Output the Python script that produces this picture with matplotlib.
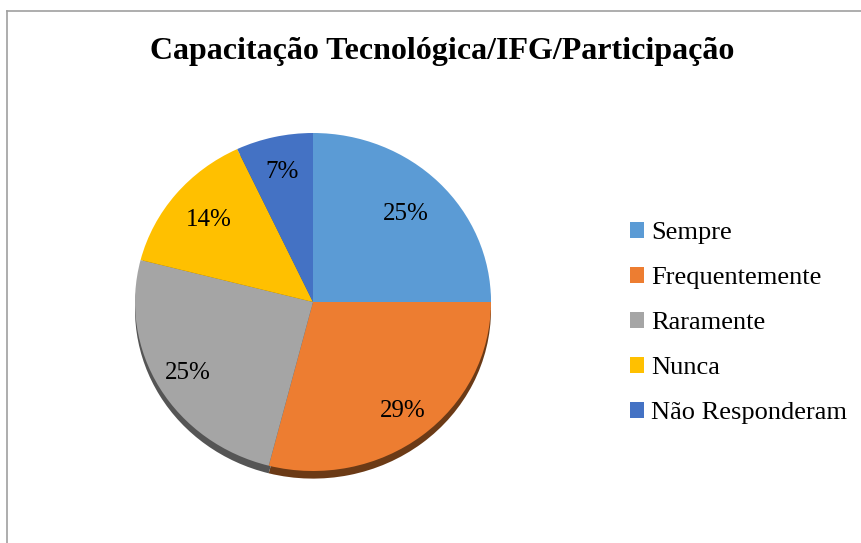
import numpy as np
import matplotlib.pyplot as plt
from matplotlib.lines import Line2D

categories = ['Sempre', 'Frequentemente', 'Raramente', 'Nunca', 'Não Responderam']
values = [25, 29, 25, 14, 7]
colors = ['#5B9BD5', '#ED7D31', '#A5A5A5', '#FFC000', '#4472C4']
shadow_colors = ['#3f6d96', '#6b3a16', '#555555', '#8a6a00', '#2f4f88']
# radial position of each percentage label (fraction of radius)
label_dist = [0.74, 0.82, 0.82, 0.76, 0.79]

plt.rcParams['font.family'] = ['Liberation Serif', 'DejaVu Serif']

fig = plt.figure(figsize=(8.61, 5.43), dpi=100)

# frame lines (top and left only, as in the reference)
fig.add_artist(Line2D([7 / 861, 1], [1 - 11 / 543, 1 - 11 / 543], color='#a0a0a0', lw=1.2))
fig.add_artist(Line2D([7 / 861, 7 / 861], [0, 1 - 11 / 543], color='#a0a0a0', lw=1.2))

fig.text(0.513, 1 - 52 / 543, 'Capacitação Tecnológica/IFG/Participação',
         ha='center', va='center', fontsize=23, fontweight='bold')

# pie slightly flattened vertically like the reference
ax = fig.add_axes([135 / 861, 1 - 471 / 543, 356 / 861, 338 / 543])

# shadow
ax.pie(values, colors=shadow_colors, startangle=90, counterclock=False,
       radius=1.0, center=(0.0, -0.045))
wedges, texts, autotexts = ax.pie(values, colors=colors, startangle=90, counterclock=False,
                                  radius=1.0, autopct='%1.0f%%', pctdistance=0.78,
                                  textprops={'fontsize': 18, 'color': 'black'})
for w, t, d in zip(wedges, autotexts, label_dist):
    ang = np.deg2rad((w.theta1 + w.theta2) / 2)
    t.set_position((d * np.cos(ang), d * np.sin(ang)))

ax.set_aspect('auto')
ax.set_xlim(-1.0, 1.0)
ax.set_ylim(-1.0, 1.0)

fig.legend(wedges, categories, loc='center left', bbox_to_anchor=(606 / 861, 1 - 323 / 543),
           frameon=False, fontsize=19, handlelength=0.55, handleheight=0.55,
           handletextpad=0.25, labelspacing=0.86)

fig.savefig('out.png', dpi=100)
